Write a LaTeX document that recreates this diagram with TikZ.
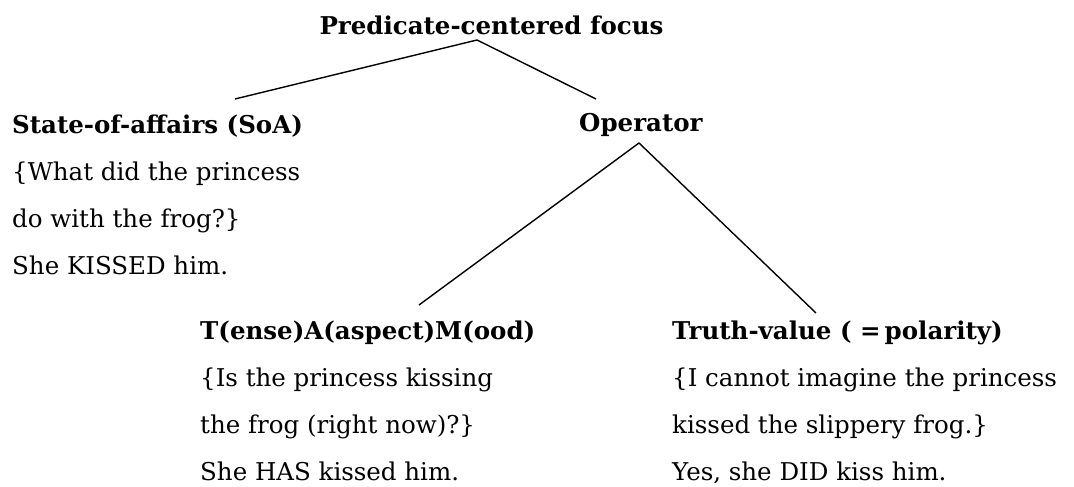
\documentclass[tikz,border=0pt]{standalone}
\usepackage{fontspec}
\setmainfont{DejaVu Serif}
\begin{document}
\begin{tikzpicture}[x=1pt,y=1pt,
  blocktext/.style={inner sep=0pt, align=left, font=\fontsize{24.5}{47.3}\selectfont},
  headtext/.style={blocktext, font=\fontsize{24.5}{47.3}\selectfont\bfseries},
  branch/.style={line width=1.4pt}]
\useasboundingbox (0,0) rectangle (1074,487);
% top
\node[headtext, anchor=base] (focus) at (491.5,452) {Predicate-centered focus};
% second row (base = last line)
\node[blocktext, anchor=base west] (soa) at (12,212) {\textbf{State-of-affairs (SoA)}\\\{What did the princess\\do with the frog?\}\\She KISSED him.};
\node[headtext, anchor=base west] (operator) at (579,355) {Operator};
% third row
\node[blocktext, anchor=base west] (tam) at (200,6) {\textbf{T(ense)A(aspect)M(ood)}\\\{Is the princess kissing\\the frog (right now)?\}\\She HAS kissed him.};
\node[blocktext, anchor=base west] (truth) at (672,6) {\textbf{Truth-value ( =\,polarity)}\\\{I cannot imagine the princess\\kissed the slippery frog.\}\\Yes, she DID kiss him.};
% branches
\draw[branch] ([shift={(-14.5,-5)}]focus.base) -- ([shift={(223,176)}]soa.base west);
\draw[branch] ([shift={(-14.5,-5)}]focus.base) -- ([shift={(17,33)}]operator.base west);
\draw[branch] ([shift={(60,-11)}]operator.base west) -- ([shift={(219,176)}]tam.base west);
\draw[branch] ([shift={(60,-11)}]operator.base west) -- ([shift={(144,168)}]truth.base west);
\end{tikzpicture}
\end{document}
